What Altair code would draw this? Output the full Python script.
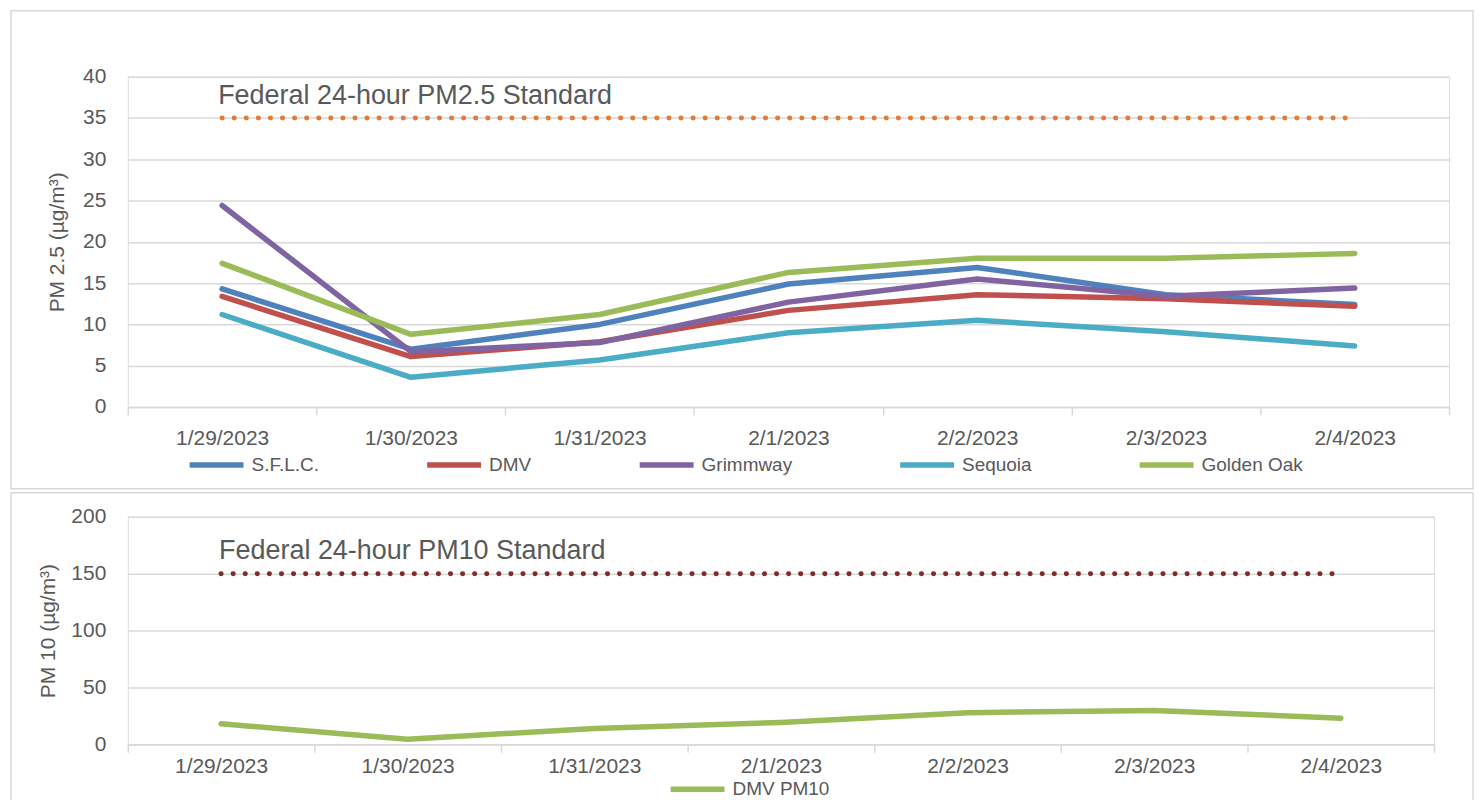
import altair as alt
import pandas as pd

# ---------------- data ----------------
dates = ["1/29/2023", "1/30/2023", "1/31/2023", "2/1/2023", "2/2/2023", "2/3/2023", "2/4/2023"]
series_names = ["S.F.L.C.", "DMV", "Grimmway", "Sequoia", "Golden Oak"]
sflc = [14.3, 7.0, 10.0, 14.9, 16.9, 13.6, 12.4]
dmv = [13.4, 6.1, 7.9, 11.7, 13.6, 13.1, 12.2]
grimmway = [24.4, 6.7, 7.8, 12.7, 15.5, 13.4, 14.4]
sequoia = [11.2, 3.6, 5.7, 9.0, 10.5, 9.1, 7.4]
golden_oak = [17.4, 8.8, 11.2, 16.3, 18.0, 18.0, 18.6]
series_colors = ["#4F81BD", "#C0504D", "#8064A2", "#4BACC6", "#9BBB59"]

pm10_name = "DMV PM10"
dmv_pm10 = [18.0, 4.5, 14.0, 19.2, 27.8, 29.8, 23.0]
pm10_color = "#9BBB59"

pm25_standard = 35
pm10_standard = 150
pm25_label = "Federal 24-hour PM2.5 Standard"
pm10_label = "Federal 24-hour PM10 Standard"

pm25_ticks = [0, 5, 10, 15, 20, 25, 30, 35, 40]
pm10_ticks = [0, 50, 100, 150, 200]

# ---------------- tables ----------------
rows = []
for name, vals in zip(series_names, [sflc, dmv, grimmway, sequoia, golden_oak]):
    for d, v in zip(dates, vals):
        rows.append({"date": d, "value": v, "series": name})
pm25_df = pd.DataFrame(rows)
pm10_df = pd.DataFrame({"date": dates, "value": dmv_pm10, "series": [pm10_name] * len(dates)})
std25_df = pd.DataFrame({"date": dates, "value": [pm25_standard] * len(dates)})
std10_df = pd.DataFrame({"date": dates, "value": [pm10_standard] * len(dates)})
lab25_df = pd.DataFrame({"date": [dates[0]], "value": [pm25_standard], "label": [pm25_label]})
lab10_df = pd.DataFrame({"date": [dates[0]], "value": [pm10_standard], "label": [pm10_label]})
one = pd.DataFrame({"a": [0]})

FONT = "Liberation Sans"
GREY = "#595959"
GRID = "#D9D9D9"

TOP_W, TOP_H = 1324, 331
BOT_W, BOT_H = 1309, 228


def xenc(label_pad):
    return alt.X(
        "date:N",
        scale=alt.Scale(type="band", domain=dates, paddingInner=0, paddingOuter=0),
        bandPosition=0.5,
        axis=alt.Axis(
            title=None, labelAngle=0, labelFontSize=21, labelColor=GREY, labelFont=FONT,
            domainColor=GRID, domainWidth=1.5, tickColor=GRID, tickWidth=1.5, tickSize=8,
            tickBand="extent", labelPadding=label_pad, grid=False,
        ),
    )


def yenc(domain, ticks, title, tpad):
    return alt.Y(
        "value:Q",
        scale=alt.Scale(domain=domain, nice=False, zero=True),
        axis=alt.Axis(
            title=title, values=ticks, grid=True, gridColor=GRID, gridWidth=1.5,
            domain=False, ticks=False, labelPadding=22, labelFontSize=21,
            labelColor=GREY, labelFont=FONT, titleFontSize=21, titleFont=FONT,
            titleFontWeight="normal", titleColor=GREY, titlePadding=tpad,
        ),
    )


# ---------------- top panel ----------------
border_top = alt.Chart(one).mark_rect(fillOpacity=0, stroke=GRID, strokeWidth=1.5).encode(
    x=alt.value(-117), x2=alt.value(1348), y=alt.value(-66), y2=alt.value(413)
)
y25 = yenc([0, 40], pm25_ticks, "PM 2.5 (µg/m³)", 15)
std25 = alt.Chart(std25_df).mark_line(
    color="#E07B39", strokeWidth=5, strokeCap="round", strokeDash=[0.1, 12]
).encode(x=xenc(13), y=y25)
lab25 = alt.Chart(lab25_df).mark_text(
    align="left", baseline="alphabetic", dx=-4, dy=-14, fontSize=27, font=FONT, color=GREY
).encode(x=xenc(13), y=y25, text="label:N")
lines25 = alt.Chart(pm25_df).mark_line(strokeWidth=5.5, strokeCap="round", strokeJoin="round").encode(
    x=xenc(13),
    y=y25,
    color=alt.Color(
        "series:N",
        scale=alt.Scale(domain=series_names, range=series_colors),
        legend=alt.Legend(
            title=None, orient="none", legendX=59, legendY=359, direction="horizontal",
            columns=5, symbolType="stroke", symbolSize=2916, symbolStrokeWidth=5.5,
            labelFontSize=19, labelFont=FONT, labelColor=GREY, columnPadding=97,
            labelOffset=5,
        ),
    ),
    order=alt.Order("series:N"),
)
top = alt.layer(border_top, std25, lines25, lab25).properties(width=TOP_W, height=TOP_H)

# ---------------- bottom panel ----------------
border_bot = alt.Chart(one).mark_rect(fillOpacity=0, stroke=GRID, strokeWidth=1.5).encode(
    x=alt.value(-117), x2=alt.value(1348), y=alt.value(-24), y2=alt.value(292)
)
y10 = yenc([0, 200], pm10_ticks, "PM 10 (µg/m³)", 12)
std10 = alt.Chart(std10_df).mark_line(
    color="#7F2B2B", strokeWidth=5, strokeCap="round", strokeDash=[0.1, 12]
).encode(x=xenc(3), y=y10)
lab10 = alt.Chart(lab10_df).mark_text(
    align="left", baseline="alphabetic", dx=-2, dy=-15, fontSize=27, font=FONT, color=GREY
).encode(x=xenc(3), y=y10, text="label:N")
line10 = alt.Chart(pm10_df).mark_line(strokeWidth=5.5, strokeCap="round", strokeJoin="round").encode(
    x=xenc(3),
    y=y10,
    color=alt.Color(
        "series:N",
        scale=alt.Scale(domain=[pm10_name], range=[pm10_color]),
        legend=alt.Legend(
            title=None, orient="none", legendX=541, legendY=243, direction="horizontal",
            symbolType="stroke", symbolSize=2916, symbolStrokeWidth=5.5,
            labelFontSize=19, labelFont=FONT, labelColor=GREY, labelOffset=5,
        ),
    ),
)
bottom = alt.layer(border_bot, std10, lab10, line10).properties(width=BOT_W, height=BOT_H)

chart = (
    alt.vconcat(top, bottom, spacing=0)
    .resolve_scale(color="independent")
    .properties(padding={"left": 1, "top": 0, "right": 0, "bottom": 0})
    .configure_view(stroke=None)
    .configure(background="white", padding={"left": 1, "top": 0, "right": 0, "bottom": 0})
)

chart.save("out.html", embed_options={"renderer": "svg", "actions": False})
